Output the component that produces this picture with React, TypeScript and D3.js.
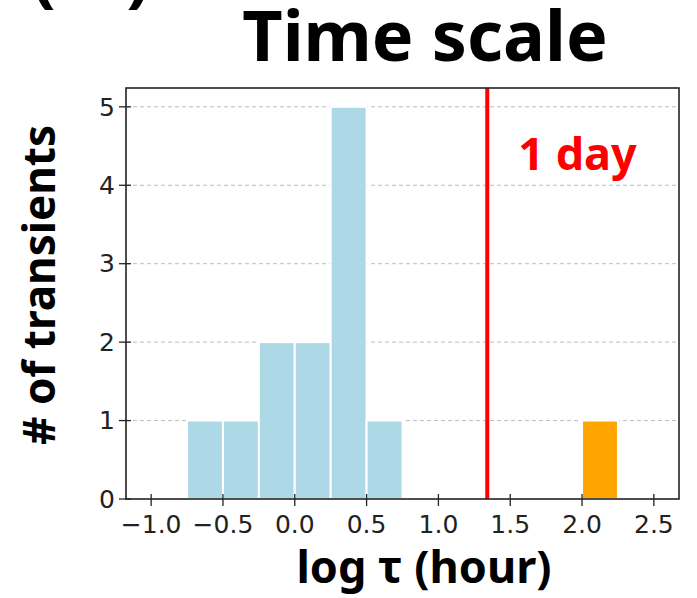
import * as d3 from "d3";

// histogram bins (log tau, hours), bin width 0.25
const binStarts = [-0.75, -0.5, -0.25, 0.0, 0.25, 0.5];
const binCounts = [1, 1, 2, 2, 5, 1];
const longBinStarts = [2.0];
const longBinCounts = [1];
const binWidth = 0.25;
const oneDay = 1.34;
const xTicks = [-1.0, -0.5, 0.0, 0.5, 1.0, 1.5, 2.0, 2.5];
const yTicks = [0, 1, 2, 3, 4, 5];

const W = 697;
const H = 598;
const m = { left: 126, right: 18, top: 88, bottom: 99 };

const labelFont = "'Noto Sans', sans-serif";
const tickFont = "'DejaVu Sans', sans-serif";

export default function App() {
  const x = d3.scaleLinear().domain([-1.175, 2.675]).range([m.left, W - m.right]);
  const y = d3.scaleLinear().domain([0, 5.24]).range([H - m.bottom, m.top]);
  const fmt = (v: number) => d3.format(".1f")(v).replace("-", "\u2212");

  const bars = binStarts.map((s, i) => ({ s, c: binCounts[i], color: "#add8e6" }))
    .concat(longBinStarts.map((s, i) => ({ s, c: longBinCounts[i], color: "#ffa500" })));

  const y0 = y(0);

  return (
    <div style={{ position: "absolute", left: 0, top: 0, width: W, height: H, background: "#fff" }}>
      <svg width={W} height={H} style={{ display: "block" }}>
        {/* cropped panel tag */}
        <text x={32} y={-1} fontFamily={labelFont} fontWeight={700} fontSize={70} fill="#000"
          textLength={118} lengthAdjust="spacing">(c)</text>
        <text x={425} y={61} textAnchor="middle" fontFamily={labelFont} fontWeight={700} fontSize={70} fill="#000">
          Time scale
        </text>

        {/* grid */}
        {yTicks.filter(t => t > 0).map(t => (
          <line key={t} x1={x.range()[0]} x2={x.range()[1]} y1={y(t)} y2={y(t)}
            stroke="#bdbdbd" strokeWidth={1} strokeDasharray="4,3" />
        ))}

        {/* bars */}
        {bars.map((b, i) => (
          <rect key={i} x={x(b.s)} y={y(b.c)} width={x(b.s + binWidth) - x(b.s)} height={y0 - y(b.c)}
            fill={b.color} stroke="#fff" strokeWidth={2} />
        ))}

        {/* 1 day line */}
        <line x1={x(oneDay)} x2={x(oneDay)} y1={y.range()[1]} y2={y0} stroke="#ff0000" strokeWidth={4} />
        <text x={x(oneDay) + 31} y={170} fontFamily={labelFont} fontWeight={700} fontSize={45} fill="#ff0000">1 day</text>

        {/* frame */}
        <rect x={x.range()[0]} y={y.range()[1]} width={x.range()[1] - x.range()[0]} height={y0 - y.range()[1]}
          fill="none" stroke="#222" strokeWidth={1.6} />

        {/* x ticks */}
        {xTicks.map(t => (
          <g key={t} transform={`translate(${x(t)},${y0})`}>
            <line y1={-5} y2={7} stroke="#222" strokeWidth={1.3} />
            <text y={34} textAnchor="middle" fontFamily={tickFont} fontSize={25} fill="#222">{fmt(t)}</text>
          </g>
        ))}

        {/* y ticks */}
        {yTicks.map(t => (
          <g key={t} transform={`translate(${m.left},${y(t)})`}>
            <line x1={-7} x2={5} stroke="#222" strokeWidth={1.3} />
            <text x={-11} dy="0.35em" textAnchor="end" fontFamily={tickFont} fontSize={25} fill="#222">{t}</text>
          </g>
        ))}

        <text x={424} y={583} textAnchor="middle" fontFamily={labelFont} fontWeight={700} fontSize={45} fill="#000">
          log τ (hour)
        </text>
        <text transform={`translate(55,${285}) rotate(-90)`} textAnchor="middle" fontFamily={labelFont}
          fontWeight={700} fontSize={44} fill="#000">
          # of transients
        </text>
      </svg>
    </div>
  );
}
